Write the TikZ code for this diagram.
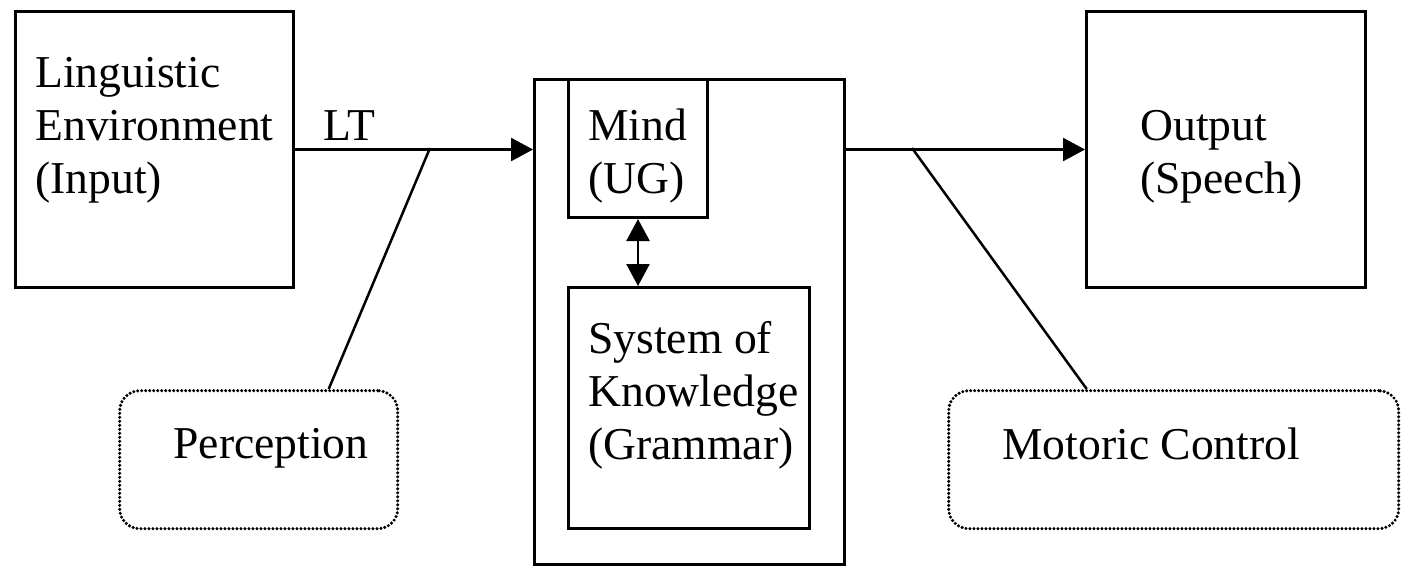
\documentclass[tikz,border=0pt]{standalone}
\usepackage{fontspec}
\setmainfont{Liberation Serif}
\usetikzlibrary{arrows.meta}
\begin{document}
\begin{tikzpicture}[x=0.5pt,y=-0.5pt,
  box/.style={draw, line width=1.5pt, inner sep=0pt, anchor=north west},
  softbox/.style={draw, line width=1.7pt, dash pattern=on 0pt off 2pt, line cap=round,
                  rounded corners=10pt, inner sep=0pt, anchor=north west},
  conn/.style={line width=1.25pt},
  arr/.style={conn, -{Triangle[length=11pt,width=11.5pt]}},
  darr/.style={conn, {Triangle[length=11pt,width=11.5pt]}-{Triangle[length=11pt,width=11.5pt]}},
  txt/.style={anchor=base west, inner sep=0pt, font=\fontsize{22.8pt}{27pt}\selectfont}]
\useasboundingbox (0,0) rectangle (1408,570);

% boxes
\node[box, minimum width=139pt, minimum height=138pt] (env) at (14,10) {};
\node[box, minimum width=155pt, minimum height=242.5pt] (main) at (533,78) {};
\node[box, minimum width=69.5pt, minimum height=69pt] (mind) at (567,78) {};
\node[box, minimum width=120.5pt, minimum height=120.5pt] (sys) at (567,286) {};
\node[box, minimum width=139.5pt, minimum height=138pt] (out) at (1085,10) {};
\node[softbox, minimum width=139pt, minimum height=69pt] (perc) at (118,389) {};
\node[softbox, minimum width=225pt, minimum height=69pt] (motor) at (947,389) {};

% labels
\node[txt] (envA) at (35,87) {Linguistic};
\node[txt] (envB) at (35,140) {Environment};
\node[txt] (envC) at (35,193) {(Input)};
\node[txt] (lt) at (323,140) {LT};
\node[txt] (mindA) at (588,140) {Mind};
\node[txt] (mindB) at (588,193) {(UG)};
\node[txt] (sysA) at (588,353) {System of};
\node[txt] (sysB) at (588,406) {Knowledge};
\node[txt] (sysC) at (588,459) {(Grammar)};
\node[txt] (outA) at (1140,140) {Output};
\node[txt] (outB) at (1140,193) {(Speech)};
\node[txt] (percA) at (173,458) {Perception};
\node[txt] (motorA) at (1002,459) {Motoric Control};

% junctions on the two horizontal flows
\coordinate (pj) at (430,148);
\coordinate (mj) at (912,148);

% connectors
\draw[arr] (env.east) -- (env.east -| main.west);
\draw[arr] (main.east |- out.west) -- (out.west);
\draw[conn] (pj) -- ([xshift=35pt]perc.north);
\draw[conn] (mj) -- ([xshift=-43.5pt]motor.north);
\draw[darr] (mind.south) -- (mind.south |- sys.north);
\end{tikzpicture}
\end{document}
